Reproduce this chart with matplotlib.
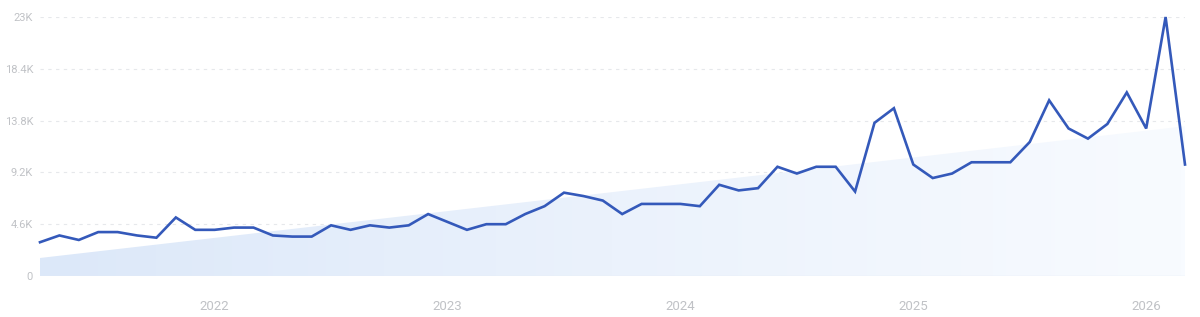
import numpy as np
import matplotlib.pyplot as plt
from matplotlib.colors import LinearSegmentedColormap

plt.rcParams['font.family'] = ['Roboto', 'DejaVu Sans']

# monthly values, Apr 2021 .. Mar 2026 (thousands)
values = [
    3.0, 3.6, 3.2, 3.9, 3.9, 3.6, 3.4, 5.2, 4.1,          # 2021 Apr-Dec
    4.1, 4.3, 4.3, 3.6, 3.5, 3.5, 4.5, 4.1, 4.5, 4.3, 4.5, 5.5,   # 2022
    4.8, 4.1, 4.6, 4.6, 5.5, 6.2, 7.4, 7.1, 6.7, 5.5, 6.4, 6.4,   # 2023
    6.4, 6.2, 8.1, 7.6, 7.8, 9.7, 9.1, 9.7, 9.7, 7.5, 13.6, 14.9, # 2024
    9.9, 8.7, 9.1, 10.1, 10.1, 10.1, 11.9, 15.6, 13.1, 12.2, 13.5, 16.3,  # 2025
    13.1, 23.0, 9.9,                                       # 2026 Jan-Mar
]
values = [v * 1000 for v in values]

# trend band (start / end of the shaded area)
trend_start = 1600
trend_end = 13300

year_labels = ['2022', '2023', '2024', '2025', '2026']
year_index = [9, 21, 33, 45, 57]   # position of January in the series

y_ticks = [0, 4600, 9200, 13800, 18400, 23000]
y_tick_labels = ['0', '4.6K', '9.2K', '13.8K', '18.4K', '23K']

x = np.arange(len(values))
n = len(values) - 1

fig = plt.figure(figsize=(12, 3.17), dpi=100)
ax = fig.add_axes([40 / 1200, 1 - 276 / 317, 1145 / 1200, 259 / 317])

# gradient-filled trend area
band = ax.fill_between([0, n], [trend_start, trend_end], 0,
                       facecolor='none', edgecolor='none')
cmap = LinearSegmentedColormap.from_list('band', ['#dce8f9', '#ebf2fc', '#f8fbff'])
grad = np.linspace(0, 1, 256).reshape(1, -1)
img = ax.imshow(grad, cmap=cmap, extent=[0, n, 0, 23000], aspect='auto',
                origin='lower', zorder=1)
img.set_clip_path(band.get_paths()[0], transform=ax.transData)

# grid
for t in y_ticks[1:]:
    ax.axhline(t, color='#e6e8eb', lw=0.8, ls=(0, (3, 4)), zorder=0)
ax.axhline(0, color='#e6ecf5', lw=1.0, zorder=2)

ax.plot(x, values, color='#3459ba', lw=1.9, zorder=3, clip_on=False,
        solid_joinstyle='miter')

ax.set_xlim(0, n)
ax.set_ylim(0, 23000)
ax.set_yticks(y_ticks)
ax.set_yticklabels(y_tick_labels)
ax.set_xticks(year_index)
ax.set_xticklabels(year_labels)
ax.tick_params(axis='y', length=0, pad=5, labelsize=8, labelcolor='#c0c2c6')
ax.tick_params(axis='x', length=0, pad=17, labelsize=9.5, labelcolor='#c0c2c6')
for s in ax.spines.values():
    s.set_visible(False)

fig.savefig('out.png', dpi=100)
